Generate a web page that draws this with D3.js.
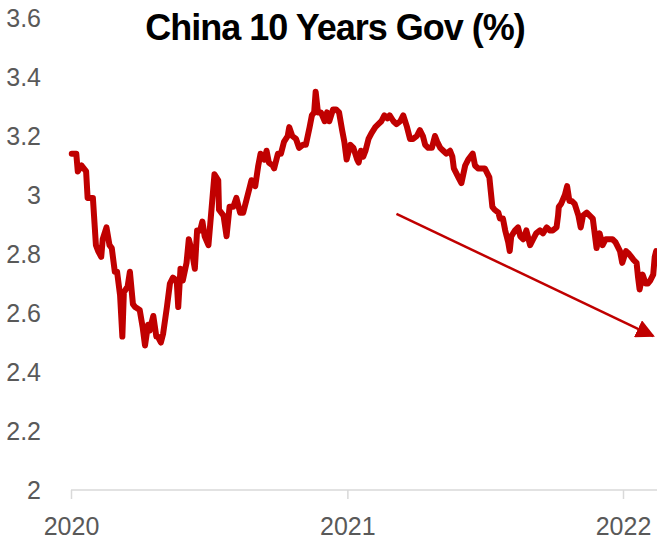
<!DOCTYPE html>
<meta charset="utf-8">
<title>China 10 Years Gov</title>
<style>
  body { margin: 0; background: #fff; }
  text { font-family: "Liberation Sans", Arial, sans-serif; }
</style>
<div id="viz"></div>
<script src="https://cdnjs.cloudflare.com/ajax/libs/d3/7.8.5/d3.min.js"></script>
<script>

var width = 657;
var height = 539;

var title = "China 10 Years Gov (%)";
var yTicks = [2, 2.2, 2.4, 2.6, 2.8, 3, 3.2, 3.4, 3.6];
var yearTicks = ["2020-01-01", "2021-01-01", "2022-01-01"];

// dates / yields
var dates = [
  "2020-01-02","2020-01-08","2020-01-10","2020-01-15","2020-01-21","2020-01-23","2020-01-30",
  "2020-02-03","2020-02-06","2020-02-10","2020-02-12","2020-02-17","2020-02-21","2020-02-24","2020-02-28",
  "2020-03-02","2020-03-06","2020-03-09","2020-03-11","2020-03-16","2020-03-19","2020-03-23","2020-03-26",
  "2020-04-01","2020-04-05","2020-04-08","2020-04-12","2020-04-14","2020-04-19","2020-04-23","2020-04-25","2020-04-29",
  "2020-05-02","2020-05-07","2020-05-11","2020-05-15","2020-05-20","2020-05-22","2020-05-25","2020-05-28",
  "2020-06-02","2020-06-05","2020-06-09","2020-06-13","2020-06-16","2020-06-20","2020-06-23","2020-06-26",
  "2020-07-01","2020-07-06","2020-07-09","2020-07-14","2020-07-15","2020-07-21","2020-07-25","2020-07-29",
  "2020-08-03","2020-08-07","2020-08-12","2020-08-16","2020-08-21","2020-08-25","2020-08-27",
  "2020-09-01","2020-09-05","2020-09-08","2020-09-13","2020-09-16","2020-09-19","2020-09-24","2020-09-26",
  "2020-10-01","2020-10-05","2020-10-09","2020-10-14","2020-10-16","2020-10-20","2020-10-25","2020-10-29",
  "2020-11-03","2020-11-07","2020-11-12","2020-11-15","2020-11-18","2020-11-20","2020-11-23","2020-11-27",
  "2020-12-02","2020-12-05","2020-12-08","2020-12-13","2020-12-17","2020-12-21","2020-12-25","2020-12-28","2020-12-31",
  "2021-01-05","2021-01-09","2021-01-14","2021-01-16","2021-01-19","2021-01-22","2021-01-25","2021-01-29",
  "2021-02-02","2021-02-07","2021-02-11","2021-02-15","2021-02-19","2021-02-23","2021-02-26",
  "2021-03-03","2021-03-07","2021-03-12","2021-03-16","2021-03-21","2021-03-25","2021-03-29",
  "2021-04-03","2021-04-07","2021-04-11","2021-04-14","2021-04-18","2021-04-23","2021-04-27","2021-04-30",
  "2021-05-04","2021-05-08","2021-05-12","2021-05-17","2021-05-20","2021-05-22","2021-05-24","2021-05-28",
  "2021-06-01","2021-06-06","2021-06-10","2021-06-16","2021-06-19","2021-06-23","2021-06-28",
  "2021-07-02","2021-07-08","2021-07-10","2021-07-12","2021-07-15","2021-07-20","2021-07-22","2021-07-26","2021-07-29",
  "2021-08-02","2021-08-04","2021-08-06","2021-08-11","2021-08-15","2021-08-18","2021-08-22","2021-08-26","2021-08-31",
  "2021-09-04","2021-09-08","2021-09-13","2021-09-17","2021-09-22","2021-09-26","2021-09-30",
  "2021-10-05","2021-10-07","2021-10-08","2021-10-11","2021-10-16","2021-10-19","2021-10-22","2021-10-25","2021-10-29",
  "2021-11-03","2021-11-06","2021-11-09","2021-11-14","2021-11-18","2021-11-22","2021-11-27",
  "2021-12-01","2021-12-05","2021-12-09","2021-12-14","2021-12-18","2021-12-22","2021-12-28","2021-12-31",
  "2022-01-05","2022-01-09","2022-01-12","2022-01-15","2022-01-19","2022-01-21","2022-01-23","2022-01-27","2022-01-31",
  "2022-02-03","2022-02-06","2022-02-10","2022-02-12","2022-02-14"
];
var yields = [
  3.14,3.14,3.08,3.10,3.08,2.99,2.99,
  2.83,2.81,2.79,2.85,2.89,2.83,2.82,2.74,
  2.74,2.66,2.52,2.67,2.69,2.74,2.63,2.62,
  2.61,2.55,2.49,2.56,2.54,2.59,2.52,2.52,2.50,
  2.53,2.62,2.70,2.72,2.71,2.62,2.75,2.71,
  2.77,2.85,2.81,2.75,2.88,2.88,2.91,2.86,
  2.83,2.98,3.07,3.05,2.95,2.93,2.86,2.96,
  2.96,2.99,2.94,2.94,2.99,3.03,3.05,
  3.03,3.10,3.14,3.12,3.15,3.11,3.10,3.09,
  3.14,3.14,3.18,3.20,3.23,3.20,3.19,3.16,
  3.17,3.17,3.23,3.27,3.28,3.35,3.28,3.28,
  3.25,3.28,3.25,3.29,3.29,3.28,3.22,3.18,3.12,
  3.17,3.16,3.12,3.11,3.15,3.13,3.15,3.19,
  3.21,3.23,3.24,3.25,3.27,3.26,3.27,
  3.25,3.24,3.25,3.27,3.23,3.19,3.19,
  3.20,3.22,3.20,3.17,3.16,3.16,3.20,3.18,
  3.16,3.15,3.14,3.15,3.13,3.09,3.08,3.06,
  3.04,3.10,3.12,3.14,3.10,3.09,3.09,
  3.09,3.06,3.01,2.96,2.95,2.94,2.92,2.92,2.88,
  2.84,2.81,2.86,2.88,2.89,2.86,2.85,2.88,2.83,
  2.85,2.87,2.88,2.87,2.89,2.88,2.88,
  2.89,2.93,2.96,2.97,3.00,3.03,2.98,2.98,2.97,
  2.93,2.89,2.93,2.94,2.93,2.92,2.82,
  2.87,2.83,2.85,2.85,2.85,2.84,2.81,2.77,
  2.81,2.80,2.79,2.78,2.77,2.72,2.68,2.73,2.70,
  2.70,2.71,2.73,2.79,2.81
];

// trend arrow: start and end (date, yield)
var arrowDates = ["2021-03-07", "2022-02-10"];
var arrowYields = [2.936, 2.522];

var parse = d3.utcParse("%Y-%m-%d");
var data = dates.map(function(d, i) { return { date: parse(d), value: yields[i] }; });

var x = d3.scaleUtc()
  .domain([parse(yearTicks[0]), parse(yearTicks[2])])
  .range([71, 623]);
var y = d3.scaleLinear()
  .domain([2, 3.6])
  .range([490, 18]);

var svg = d3.select("#viz")
  .append("svg")
  .attr("width", width)
  .attr("height", height);

svg.append("defs").append("marker")
  .attr("id", "head")
  .attr("viewBox", "0 0 10 10")
  .attr("refX", 9)
  .attr("refY", 5)
  .attr("markerWidth", 7.5)
  .attr("markerHeight", 7.5)
  .attr("markerUnits", "strokeWidth")
  .attr("orient", "auto")
  .append("path")
  .attr("d", "M0,0 L10,5 L0,10 Z")
  .attr("fill", "#c00000");

// y labels (no axis line)
svg.selectAll(".ylab")
  .data(yTicks)
  .enter().append("text")
  .attr("class", "ylab")
  .attr("x", 41)
  .attr("y", function(d) { return y(d); })
  .attr("dy", "0.35em")
  .attr("text-anchor", "end")
  .attr("font-size", 25)
  .attr("fill", "#595959")
  .text(function(d) { return d3.format("")(d); });

// x axis
var xAxis = d3.axisBottom(x)
  .tickValues(yearTicks.map(parse))
  .tickSize(9)
  .tickPadding(18)
  .tickFormat(d3.utcFormat("%Y"));

var gx = svg.append("g")
  .attr("transform", "translate(0,490)")
  .call(xAxis);
gx.select(".domain").remove();
gx.insert("line", ":first-child")
  .attr("x1", 71).attr("x2", width)
  .attr("stroke", "#d9d9d9")
  .attr("stroke-width", 1.5);
gx.selectAll(".tick line")
  .attr("stroke", "#d9d9d9")
  .attr("stroke-width", 1.5);
gx.selectAll(".tick text")
  .attr("font-size", 25)
  .attr("font-family", "'Liberation Sans', Arial, sans-serif")
  .attr("fill", "#595959");

// yield line
svg.append("path")
  .datum(data)
  .attr("fill", "none")
  .attr("stroke", "#c00000")
  .attr("stroke-width", 6)
  .attr("stroke-linejoin", "round")
  .attr("stroke-linecap", "round")
  .attr("d", d3.line()
    .x(function(d) { return x(d.date); })
    .y(function(d) { return y(d.value); }));

// trend arrow
svg.append("line")
  .attr("x1", x(parse(arrowDates[0])))
  .attr("y1", y(arrowYields[0]))
  .attr("x2", x(parse(arrowDates[1])))
  .attr("y2", y(arrowYields[1]))
  .attr("stroke", "#c00000")
  .attr("stroke-width", 2.5)
  .attr("marker-end", "url(#head)");

// title
svg.append("text")
  .attr("x", 335)
  .attr("y", 40)
  .attr("text-anchor", "middle")
  .attr("font-size", 36)
  .attr("font-weight", "bold")
  .attr("letter-spacing", "-1px")
  .attr("fill", "#000")
  .text(title);

</script>
